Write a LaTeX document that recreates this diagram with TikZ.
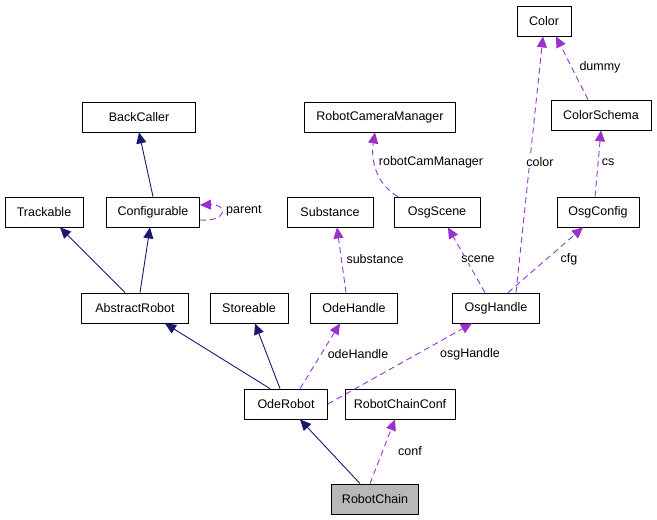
\documentclass[tikz,border=0pt]{standalone}
\usepackage{fontspec}
\setmainfont{Liberation Sans}
\usetikzlibrary{arrows.meta}
\definecolor{inh}{RGB}{25,25,112}
\definecolor{use}{RGB}{153,50,204}
\begin{document}
\begin{tikzpicture}[x=1pt,y=-1pt,
  box/.style={draw,line width=0.8pt,minimum height=30pt,inner sep=0pt,font=\fontsize{12.5}{14}\selectfont},
  inhe/.style={draw=inh,line width=0.9pt,-{Triangle[length=11pt,width=10pt,fill=inh]}},
  usee/.style={draw=use,line width=0.9pt,dash pattern=on 6pt off 4pt,-{Triangle[length=11pt,width=10pt,fill=use]}},
  lab/.style={font=\fontsize{12.5}{14}\selectfont,fill=white,inner sep=1pt}]
\useasboundingbox (0,0) rectangle (657,520);
\node[box,minimum width=54pt] (color) at (544,21) {Color};
\node[box,minimum width=113pt] (back) at (139,117) {BackCaller};
\node[box,minimum width=151pt] (rcm) at (380,117) {RobotCameraManager};
\node[box,minimum width=100pt] (cs) at (601,115) {ColorSchema};
\node[box,minimum width=78pt] (track) at (44,212) {Trackable};
\node[box,minimum width=93pt] (conf) at (153,212) {Configurable};
\node[box,minimum width=86pt] (subst) at (330,212) {Substance};
\node[box,minimum width=86pt] (scene) at (437,212) {OsgScene};
\node[box,minimum width=82pt] (ocfg) at (598,212) {OsgConfig};
\node[box,minimum width=107pt] (ar) at (135,308) {AbstractRobot};
\node[box,minimum width=78pt] (store) at (249,308) {Storeable};
\node[box,minimum width=87pt] (odeh) at (354,308) {OdeHandle};
\node[box,minimum width=87pt] (osgh) at (496,308) {OsgHandle};
\node[box,minimum width=83pt] (oder) at (286,404) {OdeRobot};
\node[box,minimum width=110pt] (rcc) at (400,404) {RobotChainConf};
\node[box,minimum width=87pt,fill=black!28] (rc) at (375,499) {RobotChain};

\draw[inhe] (conf.north) -- (back.south);
\draw[usee] ([yshift=-8pt]conf.east) .. controls (228,222) and (228,204) .. ([yshift=7pt]conf.east);
\node[lab,fill=none,anchor=west] (lparent) at (225,211) {parent};
\draw[inhe] ([xshift=-10pt]ar.north) -- ([xshift=16pt]track.south);
\draw[inhe] ([xshift=5pt]ar.north) -- ([xshift=-3pt]conf.south);
\draw[inhe] ([xshift=-16pt]oder.north) -- ([xshift=30pt]ar.south);
\draw[inhe] ([xshift=-6pt]oder.north) -- ([xshift=6pt]store.south);
\draw[inhe] ([xshift=-15pt]rc.north) -- ([xshift=14pt]oder.south);
\draw[usee] ([xshift=-5pt]rc.north) -- ([xshift=-5pt]rcc.south);
\node[lab] (lconf) at (410,451) {conf};
\draw[usee] ([xshift=14pt]oder.north) -- ([xshift=-14pt]odeh.south);
\node[lab] (lodeh) at (358,354) {odeHandle};
\draw[usee] (oder.east) -- ([xshift=-24pt]osgh.south);
\node[lab] (losgh) at (470,354) {osgHandle};
\draw[usee] ([xshift=-8pt]odeh.north) -- ([xshift=7pt]subst.south);
\node[lab] (lsub) at (375,259) {substance};
\draw[usee] ([xshift=-11pt]osgh.north) -- ([xshift=11pt]scene.south);
\node[lab] (lscene) at (478,259) {scene};
\draw[usee] ([xshift=12pt]osgh.north) -- ([xshift=-15pt]ocfg.south);
\node[lab] (lcfg) at (569,259) {cfg};
\draw[usee] ([xshift=20pt]osgh.north) -- ([xshift=-1pt]color.south);
\node[lab] (lcolor) at (540,162) {color};
\draw[usee] ([xshift=-39pt]scene.north) .. controls (370,180) and (372,150) .. ([xshift=-5pt]rcm.south);
\node[lab] (lrcm) at (431,162) {robotCamManager};
\draw[usee] ([xshift=-3pt]ocfg.north) -- ([xshift=0pt]cs.south);
\node[lab] (lcs) at (608,162) {cs};
\draw[usee] ([xshift=-13pt]cs.north) -- ([xshift=12pt]color.south);
\node[lab] (ldummy) at (600,67) {dummy};
\end{tikzpicture}
\end{document}
